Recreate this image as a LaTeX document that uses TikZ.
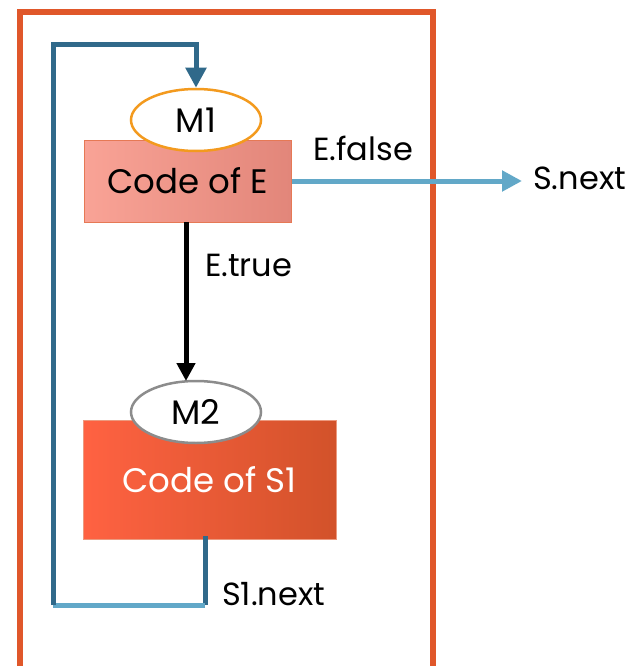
\documentclass[tikz,border=0pt]{standalone}
\usepackage{fontspec}
\setmainfont{Poppins}
\usetikzlibrary{arrows.meta,shapes.geometric}
\definecolor{frame}{HTML}{E0572A}
\definecolor{darkloop}{HTML}{30698A}
\definecolor{lightloop}{HTML}{62A8C8}
\definecolor{mone}{HTML}{F39A1E}
\definecolor{mtwo}{HTML}{8C8C8C}
\definecolor{eleft}{HTML}{F9A396}
\definecolor{eright}{HTML}{E2867A}
\definecolor{sleft}{HTML}{FF6242}
\definecolor{sright}{HTML}{D2522A}
\tikzset{
  label text/.style={font=\fontsize{32}{37}\selectfont, inner sep=0pt, anchor=west},
  marker/.style={ellipse, draw, line width=2.5pt, fill=white, minimum width=130pt, minimum height=62pt, inner sep=0pt, font=\fontsize{34}{40}\selectfont},
  codebox/.style={draw, line width=1pt, inner sep=0pt, font=\fontsize{34}{40}\selectfont},
  loopline/.style={line width=5pt},
}
\begin{document}
\begin{tikzpicture}[x=1pt, y=-1pt]
\useasboundingbox (0,0) rectangle (630,666);
% white page
\fill[white] (0,0) rectangle (630,666);
% outer frame of the loop statement
\draw[frame, line width=6pt] (20,12) rectangle (433,690);

% code blocks
\node[codebox, draw=frame!80, left color=eleft, right color=eright,
      minimum width=207pt, minimum height=82pt] (ebox) at (187.5,181) {Code of E};
\node[codebox, draw=frame!60, left color=sleft, right color=sright, text=white,
      minimum width=253pt, minimum height=119pt] (sbox) at (209.5,479.5) {Code of S1};

% markers
\node[marker, draw=mone] (m1) at (196,120) {M1};
\node[marker, draw=mtwo] (m2) at (196,412) {M2};

% helper points of the connectors
\coordinate (etop) at (186,222);
\coordinate (etip) at (186,381);
\coordinate (s1out) at (205,536);
\coordinate (s1low) at (205,605);
\coordinate (backlow) at (53,605);
\coordinate (backtop) at (53,45);
\coordinate (m1top) at (196,45);
\coordinate (snext) at (522,181);

% E.true branch
\draw[black, line width=5pt, -{Triangle[width=18pt,length=18pt]}] (etop) -- (etip);
% E.false branch
\draw[lightloop, line width=5pt, -{Triangle[width=20pt,length=20pt]}] (ebox.east) -- (snext);
% loop back from S1 to M1
\draw[darkloop, loopline] (s1out) -- (s1low);
\draw[lightloop, loopline] (s1low) -- (backlow);
\draw[darkloop, loopline, line join=miter, -{Triangle[width=20pt,length=20pt]}]
  (backlow) -- (backtop) -- (m1top) -- (m1.north);

% labels
\node[label text] (lfalse) at (313,148) {E.false};
\node[label text] (lsnext) at (533,178) {S.next};
\node[label text] (ltrue) at (205,265) {E.true};
\node[label text] (lsone) at (222,594) {S1.next};
\end{tikzpicture}
\end{document}
